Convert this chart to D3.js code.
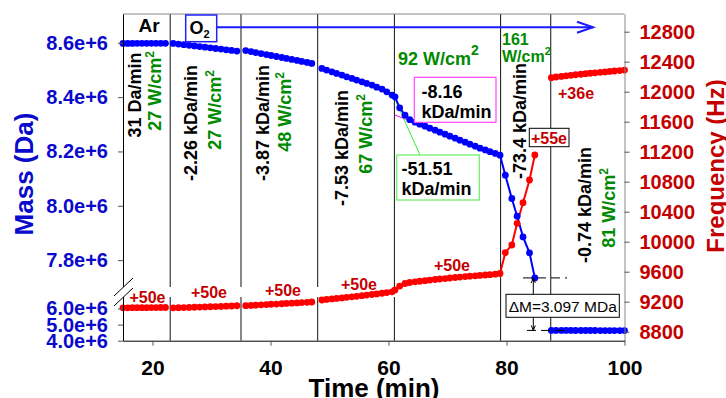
<!DOCTYPE html>
<html>
<head>
<meta charset="utf-8">
<script src="https://cdn.jsdelivr.net/npm/d3@7"></script>
<style>
	body { margin: 0; background: #fff; }
	svg { display: block; }
	text { font-family: "Liberation Sans", Arial, sans-serif; }
</style>
</head>
<body>
<svg id="chart" width="726" height="398"></svg>
<script>
// one array per plasma phase: time (min), mass (Da), frequency (Hz)
const t1 = [15.0, 15.8, 16.6, 17.4, 18.2, 19.0, 19.8, 20.6, 21.4, 22.2];
const mass1 = [8597800, 8597830, 8597850, 8597880, 8597900, 8597920, 8597950, 8597980, 8598000, 8598020];
const freq1 = [9118, 9119, 9120, 9120, 9121, 9121, 9122, 9122, 9123, 9123];

const t2 = [23.5, 24.4, 25.3, 26.2, 27.1, 28.0, 28.9, 29.8, 30.7, 31.6, 32.5, 33.4, 34.3];
const mass2 = [8597800, 8595400, 8593000, 8590700, 8588300, 8586000, 8583700, 8581400, 8579000, 8576700, 8574300, 8572000, 8569600];
const freq2 = [9118, 9120, 9122, 9124, 9126, 9128, 9130, 9133, 9135, 9137, 9140, 9143, 9146];

const t3 = [35.8, 36.7, 37.5, 38.4, 39.3, 40.1, 41.0, 41.9, 42.7, 43.6, 44.5, 45.3, 46.2, 47.0];
const mass3 = [8571300, 8567700, 8564000, 8560400, 8556800, 8553200, 8549500, 8545900, 8542300, 8538600, 8535000, 8531400, 8527700, 8524100];
const freq3 = [9147, 9151, 9154, 9158, 9162, 9166, 9169, 9173, 9177, 9181, 9184, 9188, 9192, 9196];

const t4 = [48.7, 49.5, 50.4, 51.2, 52.1, 52.9, 53.8, 54.6, 55.5, 56.3, 57.2, 58.0, 58.9, 59.7, 60.6];
const mass4 = [8505700, 8499500, 8493200, 8487300, 8481000, 8474800, 8468900, 8462600, 8456400, 8450500, 8444200, 8436800, 8429500, 8419500, 8407400];
const freq4 = [9223, 9230, 9237, 9244, 9251, 9258, 9265, 9272, 9280, 9288, 9296, 9304, 9313, 9322, 9332];

const t5 = [61.1, 61.9, 62.8, 63.6, 64.5, 65.3, 66.2, 67.0, 67.9, 68.7, 69.6, 70.4, 71.3, 72.1, 73.0, 73.8, 74.7, 75.5, 76.4, 77.2, 78.1, 78.9];
const mass5 = [8401100, 8360600, 8333700, 8317100, 8307900, 8300600, 8293200, 8285800, 8278500, 8271100, 8263700, 8256400, 8249000, 8241600, 8234300, 8226900, 8219500, 8212200, 8205600, 8199300, 8192700, 8186400];
const freq5 = [9356, 9409, 9443, 9456, 9465, 9473, 9481, 9489, 9496, 9503, 9509, 9516, 9523, 9529, 9535, 9540, 9545, 9551, 9556, 9561, 9567, 9576];

const t6 = [79.8, 80.9, 81.8, 82.8, 83.9, 84.8];
const mass6 = [8112700, 8026900, 7961700, 7885500, 7826600, 7734500];
const freq6 = [9853, 9956, 10245, 10520, 10823, 11156];

const t7 = [87.6, 88.4, 89.3, 90.1, 90.9, 91.7, 92.6, 93.4, 94.2, 95.0, 95.9, 96.7, 97.5, 98.3, 99.2, 100.0];
const mass7 = [4637500, 4636900, 4636300, 4635700, 4635100, 4634500, 4633900, 4633300, 4632700, 4632100, 4631500, 4630900, 4630300, 4629700, 4629100, 4628500];
const freq7 = [12187, 12196, 12204, 12212, 12219, 12226, 12233, 12240, 12246, 12252, 12258, 12264, 12270, 12276, 12282, 12289];

const phaseBounds = [23, 35, 48, 61, 79, 87.5];
const timeTicks = [20, 40, 60, 80, 100];
const massTicks = [4.0e6, 5.0e6, 6.0e6, 7.8e6, 8.0e6, 8.2e6, 8.4e6, 8.6e6];
const freqTicks = [8800, 9200, 9600, 10000, 10400, 10800, 11200, 11600, 12000, 12400, 12800];

const rateLabels = ["31 Da/min", "-2.26 kDa/min", "-3.87 kDa/min", "-7.53 kDa/min", "-73.4 kDa/min", "-0.74 kDa/min"];
const powerLabels = ["27", "27", "48", "67", "81"];
const chargeLabels = ["+50e", "+50e", "+50e", "+50e", "+50e"];

const blue = "#0000ff", red = "#ff0000";
const axisBlue = "#0a0acc", axisRed = "#c40000", green = "#008a00";

const plot = { left: 123, right: 624.5, top: 14, bottom: 340.7 };
const svg = d3.select("#chart");

const x = d3.scaleLinear().domain([15, 100]).range([plot.left, plot.right]);
// broken mass axis: lower part 4-6.5 MDa, upper part 7.69-8.7 MDa
const yMass = d3.scaleLinear()
	.domain([4.0e6, 6.5e6, 7.69e6, 8.706e6])
	.range([plot.bottom, 300.45, 290, plot.top]);
const yFreq = d3.scaleLinear().domain([8680, 13036]).range([plot.bottom, plot.top]);

const segments = [
	[t1, mass1, freq1], [t2, mass2, freq2], [t3, mass3, freq3], [t4, mass4, freq4],
	[t5, mass5, freq5], [t6, mass6, freq6], [t7, mass7, freq7]
].map(([t, m, f]) => t.map((d, i) => ({ t: d, mass: m[i], freq: f[i] })));

// phases 4-6 are one continuous trace
const lineGroups = [segments[0], segments[1], segments[2],
	segments[3].concat(segments[4], segments[5]), segments[6]];

// phase separators, with the gap at the axis break for the first ones
phaseBounds.forEach((b, i) => {
	const px = x(b);
	const parts = i < 4 ? [[plot.top, 287], [297, plot.bottom]] : [[plot.top, plot.bottom]];
	parts.forEach(([a, c]) => {
		svg.append("line")
			.attr("x1", px).attr("x2", px).attr("y1", a).attr("y2", c)
			.attr("stroke", "#111").attr("stroke-width", 1);
	});
});

// frame top
svg.append("line")
	.attr("x1", plot.left).attr("x2", plot.right)
	.attr("y1", plot.top).attr("y2", plot.top)
	.attr("stroke", "#888");

// fit lines for the -51.51 / -8.16 slopes
svg.append("line").attr("x1", 395).attr("y1", 115).attr("x2", 470).attr("y2", 144.5)
	.attr("stroke", "#ff00ff").attr("stroke-width", 1);
svg.append("line").attr("x1", 393.5).attr("y1", 96).attr("x2", 420).attr("y2", 155)
	.attr("stroke", "#33ee33").attr("stroke-width", 1);

const massLine = d3.line().x(d => x(d.t)).y(d => yMass(d.mass));
const freqLine = d3.line().x(d => x(d.t)).y(d => yFreq(d.freq));

svg.append("g").selectAll("path")
	.data(lineGroups).join("path")
	.attr("d", freqLine).attr("fill", "none")
	.attr("stroke", red).attr("stroke-width", 2);
svg.append("g").selectAll("path")
	.data(lineGroups).join("path")
	.attr("d", massLine).attr("fill", "none")
	.attr("stroke", blue).attr("stroke-width", 2);

const allPoints = segments.flat();
svg.append("g").selectAll("circle")
	.data(allPoints).join("circle")
	.attr("cx", d => x(d.t)).attr("cy", d => yFreq(d.freq))
	.attr("r", 3.4).attr("fill", red);
svg.append("g").selectAll("circle")
	.data(allPoints).join("circle")
	.attr("cx", d => x(d.t)).attr("cy", d => yMass(d.mass))
	.attr("r", 3.4).attr("fill", blue);

// axes
const leftAxis = svg.append("g")
	.attr("transform", `translate(${plot.left},0)`)
	.call(d3.axisLeft(yMass).tickValues(massTicks)
		.tickFormat(d => (d / 1e6).toFixed(1) + "e+6")
		.tickSize(5).tickPadding(10).tickSizeOuter(0));
leftAxis.select(".domain").attr("stroke", "#000");
leftAxis.selectAll(".tick line").attr("stroke", "#555");
leftAxis.selectAll("text")
	.attr("fill", axisBlue).style("font-size", "20px").style("font-weight", "bold");

const rightAxis = svg.append("g")
	.attr("transform", `translate(${plot.right},0)`)
	.call(d3.axisRight(yFreq).tickValues(freqTicks).tickFormat(d3.format("d"))
		.tickSize(5).tickPadding(10).tickSizeOuter(0));
rightAxis.select(".domain").attr("stroke", "#888");
rightAxis.selectAll(".tick line").attr("stroke", "#555");
rightAxis.selectAll("text")
	.attr("fill", axisRed).style("font-size", "20px").style("font-weight", "bold");

const bottomAxis = svg.append("g")
	.attr("transform", `translate(0,${plot.bottom})`)
	.call(d3.axisBottom(x).tickValues(timeTicks)
		.tickSize(5).tickPadding(14).tickSizeOuter(0));
bottomAxis.select(".domain").attr("stroke", "#000");
bottomAxis.selectAll(".tick line").attr("stroke", "#555");
bottomAxis.selectAll("text")
	.attr("fill", "#000").style("font-size", "21px").style("font-weight", "bold");

// axis break marks
svg.append("path")
	.attr("d", "M114,296 L133,278 L133,288 L114,306 Z")
	.attr("fill", "#fff");
[[296, 278], [306, 288]].forEach(([a, b]) => {
	svg.append("line").attr("x1", 114).attr("y1", a).attr("x2", 133).attr("y2", b)
		.attr("stroke", "#000").attr("stroke-width", 1);
});

// axis titles
svg.append("text")
	.attr("transform", "translate(33,174) rotate(-90)")
	.attr("text-anchor", "middle")
	.attr("fill", axisBlue).style("font-size", "26px").style("font-weight", "bold")
	.text("Mass (Da)");
svg.append("text")
	.attr("transform", "translate(724,166) rotate(-90)")
	.attr("text-anchor", "middle")
	.attr("fill", axisRed).style("font-size", "24px").style("font-weight", "bold")
	.text("Frequency (Hz)");
svg.append("text")
	.attr("x", 374).attr("y", 397)
	.attr("text-anchor", "middle")
	.attr("fill", "#000").style("font-size", "26px").style("font-weight", "bold")
	.text("Time (min)");

// gas labels
svg.append("text").attr("x", 149).attr("y", 32).attr("text-anchor", "middle")
	.style("font-size", "19px").style("font-weight", "bold").text("Ar");
svg.append("rect").attr("x", 185.7).attr("y", 15).attr("width", 31).attr("height", 26.7)
	.attr("fill", "#fff").attr("stroke", "#2020ff").attr("stroke-width", 1.5);
const o2 = svg.append("text").attr("x", 189.5).attr("y", 34)
	.style("font-size", "18px").style("font-weight", "bold").text("O");
o2.append("tspan").attr("dy", 4).style("font-size", "11px").text("2");
svg.append("line").attr("x1", 216.7).attr("x2", 593).attr("y1", 27.3).attr("y2", 27.3)
	.attr("stroke", "#1a1aff").attr("stroke-width", 2);
svg.append("path").attr("d", "M577,21.8 L593,27.3 L577,32.8")
	.attr("fill", "none").attr("stroke", "#1a1aff").attr("stroke-width", 2);

// rotated rate labels (black) and power labels (green)
function rotLabel(px, py, txt, color, sup) {
	const t = svg.append("text")
		.attr("transform", `translate(${px},${py}) rotate(-90)`)
		.attr("text-anchor", "middle").attr("dy", "0.36em")
		.attr("fill", color).style("font-size", "18px").style("font-weight", "bold")
		.text(txt);
	if (sup) t.append("tspan").attr("dy", -7).style("font-size", "12px").text("2");
}
const ratePos = [[135, 95], [190.5, 123], [262.5, 123], [341.5, 148], [519.5, 121], [584.5, 205]];
rateLabels.forEach((l, i) => rotLabel(ratePos[i][0], ratePos[i][1], l, "#000", false));
const powerPos = [[155, 91], [215, 110], [285, 112], [366, 134], [609, 208]];
powerLabels.forEach((l, i) => rotLabel(powerPos[i][0], powerPos[i][1], l + " W/cm", green, true));

// horizontal power labels
const p92 = svg.append("text").attr("x", 398).attr("y", 65)
	.attr("fill", green).style("font-size", "18px").style("font-weight", "bold").text("92 W/cm");
p92.append("tspan").attr("dy", -10).style("font-size", "14px").text("2");
svg.append("text").attr("x", 502).attr("y", 45)
	.attr("fill", green).style("font-size", "16px").style("font-weight", "bold").text("161");
const p161 = svg.append("text").attr("x", 502).attr("y", 62)
	.attr("fill", green).style("font-size", "16px").style("font-weight", "bold").text("W/cm");
p161.append("tspan").attr("dy", -7).style("font-size", "11px").text("2");

// boxed slope labels
function boxLabel(bx, by, bw, bh, stroke, lines, tx, ty) {
	svg.append("rect").attr("x", bx).attr("y", by).attr("width", bw).attr("height", bh)
		.attr("fill", "#fff").attr("stroke", stroke).attr("stroke-width", 1.2);
	lines.forEach((l, i) => {
		svg.append("text").attr("x", tx).attr("y", ty + i * 20)
			.style("font-size", "18px").style("font-weight", "bold").text(l);
	});
}
boxLabel(414.3, 77.3, 81.7, 45, "#ff44ff", ["-8.16", "kDa/min"], 421.5, 98.3);
boxLabel(396.7, 155, 82.6, 45, "#66ee66", ["-51.51", "kDa/min"], 401.5, 175);

// charge labels
const chargePos = [[147.5, 303], [209, 298], [283, 296], [359, 290], [452, 270.5]];
chargeLabels.forEach((l, i) => {
	svg.append("text").attr("x", chargePos[i][0]).attr("y", chargePos[i][1])
		.attr("text-anchor", "middle")
		.attr("fill", axisRed).style("font-size", "16px").style("font-weight", "bold").text(l);
});
svg.append("text").attr("x", 558).attr("y", 99)
	.attr("fill", axisRed).style("font-size", "16px").style("font-weight", "bold").text("+36e");
svg.append("rect").attr("x", 529.3).attr("y", 128.3).attr("width", 39.7).attr("height", 18.4)
	.attr("fill", "#fff").attr("stroke", "#000").attr("stroke-width", 1);
svg.append("text").attr("x", 549).attr("y", 143.5).attr("text-anchor", "middle")
	.attr("fill", axisRed).style("font-size", "16px").style("font-weight", "bold").text("+55e");

// mass jump annotation
const yBefore = yMass(mass6[mass6.length - 1]);
const yAfter = yMass(mass7[0]);
const ax = 533.3;
svg.append("line").attr("x1", 523).attr("x2", 567).attr("y1", yBefore).attr("y2", yBefore)
	.attr("stroke", "#000").attr("stroke-dasharray", "9,5");
svg.append("line").attr("x1", 527).attr("x2", 567).attr("y1", yAfter).attr("y2", yAfter)
	.attr("stroke", "#000").attr("stroke-dasharray", "9,5");
svg.append("line").attr("x1", ax).attr("x2", ax).attr("y1", yBefore).attr("y2", 294.3)
	.attr("stroke", "#000");
svg.append("line").attr("x1", ax).attr("x2", ax).attr("y1", 317.3).attr("y2", yAfter)
	.attr("stroke", "#000");
svg.append("path").attr("d", `M${ax - 2},${yBefore + 5} L${ax},${yBefore} L${ax + 2},${yBefore + 5}`)
	.attr("fill", "none").attr("stroke", "#000");
svg.append("path").attr("d", `M${ax - 2},${yAfter - 5} L${ax},${yAfter} L${ax + 2},${yAfter - 5}`)
	.attr("fill", "none").attr("stroke", "#000");
svg.append("rect").attr("x", 506).attr("y", 294.3).attr("width", 113.3).attr("height", 23)
	.attr("fill", "#fff").attr("stroke", "#000").attr("stroke-width", 1);
svg.append("text").attr("x", 562.7).attr("y", 311.5).attr("text-anchor", "middle")
	.style("font-size", "15.5px").text("ΔM=3.097 MDa");
</script>
</body>
</html>
